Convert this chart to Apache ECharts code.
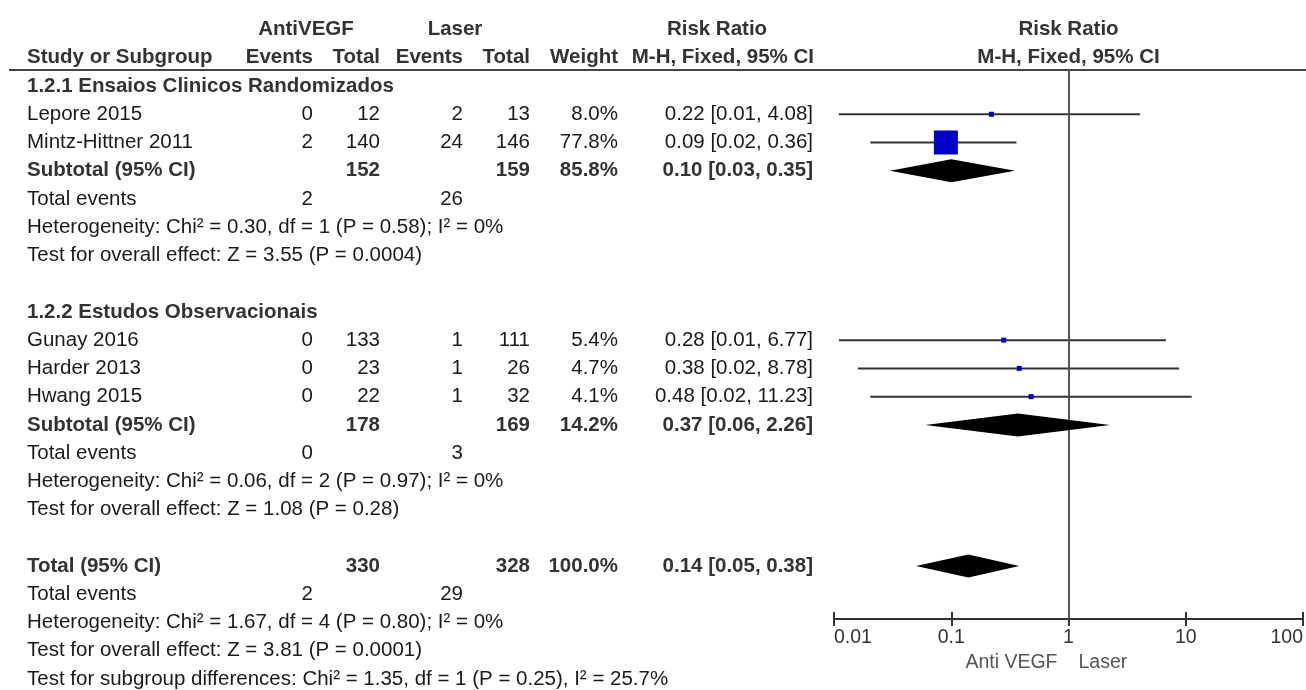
<!DOCTYPE html>
<html><head><meta charset="utf-8">
<script src="https://cdn.jsdelivr.net/npm/echarts@6/dist/echarts.min.js"></script>
<style>html,body{margin:0;padding:0;background:#fff}#c{width:1306px;height:690px}</style>
</head><body><div id="c"></div>
<script>
// ================= DATA =================
const subgroupNames = ['1.2.1 Ensaios Clinicos Randomizados', '1.2.2 Estudos Observacionais'];
const studyNames   = ['Lepore 2015', 'Mintz-Hittner 2011', 'Gunay 2016', 'Harder 2013', 'Hwang 2015'];
const studyGroup   = [0, 0, 1, 1, 1];
const antiEvents   = [0, 2, 0, 0, 0];
const antiTotal    = [12, 140, 133, 23, 22];
const laserEvents  = [2, 24, 1, 1, 1];
const laserTotal   = [13, 146, 111, 26, 32];
const studyWeight  = [8.0, 77.8, 5.4, 4.7, 4.1];
const studyRR      = [0.22, 0.09, 0.28, 0.38, 0.48];
const studyLow     = [0.011, 0.0204, 0.011, 0.016, 0.0204];
const studyHigh    = [4.08, 0.36, 6.77, 8.78, 11.23];

const subAntiTotal   = [152, 178];
const subLaserTotal  = [159, 169];
const subWeight      = [85.8, 14.2];
const subRR          = [0.10, 0.37];
const subLow         = [0.03, 0.06];
const subHigh        = [0.35, 2.26];
const subAntiEvents  = [2, 0];
const subLaserEvents = [26, 3];

// heterogeneity / overall effect: [subgroup 1, subgroup 2, total]
const hetChi = ['0.30', '0.06', '1.67'];
const hetDf  = [1, 2, 4];
const hetP   = ['0.58', '0.97', '0.80'];
const hetI2  = ['0', '0', '0'];
const effZ   = ['3.55', '1.08', '3.81'];
const effP   = ['0.0004', '0.28', '0.0001'];

const totalAnti = 330, totalLaser = 328, totalWeight = 100.0;
const totalRR = 0.14, totalLow = 0.05, totalHigh = 0.38;
const totalAntiEvents = 2, totalLaserEvents = 29;
const diffChi = '1.35', diffDf = 1, diffP = '0.25', diffI2 = '25.7';

const tickLabels = ['0.01', '0.1', '1', '10', '100'];
const favourLeft = 'Anti VEGF', favourRight = 'Laser';

// ================= LAYOUT =================
const FONT = "'Liberation Sans', Arial, sans-serif";
const FS = 20.5;
const COL = { name: 27, antiEv: 313, antiTot: 380, lasEv: 463, lasTot: 530, weight: 618, rr: 813 };
const GRID = { left: 834, right: 3, top: 70, bottom: 71 };
const ROW_MIN = -0.5666, ROW_MAX = 18.874;
const MAX_BOX = 24, MIN_BOX = 5, DIAMOND_H = 11.5;

// ================= ROWS =================
const fmt2 = v => v.toFixed(2);
const ciText = (rr, lo, hi) => fmt2(rr) + ' [' + fmt2(lo) + ', ' + fmt2(hi) + ']';
const rows = [];
let r = 0;
for (let g = 0; g < subgroupNames.length; g++) {
  rows.push({ kind: 'group', g, row: r++ });
  studyNames.forEach((n, i) => { if (studyGroup[i] === g) rows.push({ kind: 'study', i, row: r++ }); });
  rows.push({ kind: 'subtotal', g, row: r++ });
  rows.push({ kind: 'events', a: subAntiEvents[g], l: subLaserEvents[g], row: r++ });
  rows.push({ kind: 'het', k: g, row: r++ });
  rows.push({ kind: 'eff', k: g, row: r++ });
  r++;
}
rows.push({ kind: 'total', row: r++ });
rows.push({ kind: 'events', a: totalAntiEvents, l: totalLaserEvents, row: r++ });
rows.push({ kind: 'het', k: 2, row: r++ });
rows.push({ kind: 'eff', k: 2, row: r++ });
rows.push({ kind: 'diff', row: r++ });

const ciData = [], boxData = [], diamondData = [];
rows.forEach(o => {
  if (o.kind === 'study') {
    ciData.push([studyLow[o.i], studyHigh[o.i], o.row]);
    boxData.push([studyRR[o.i], o.row, studyWeight[o.i]]);
  } else if (o.kind === 'subtotal') {
    diamondData.push([subRR[o.g], subLow[o.g], subHigh[o.g], o.row]);
  } else if (o.kind === 'total') {
    diamondData.push([totalRR, totalLow, totalHigh, o.row]);
  }
});
const maxW = Math.max.apply(null, studyWeight);

const chart = echarts.init(document.getElementById('c'), null, { renderer: 'canvas' });
const gridBox = { left: GRID.left, right: GRID.right, top: GRID.top, bottom: GRID.bottom, containLabel: false };
chart.setOption({
  animation: false,
  backgroundColor: '#fff',
  grid: [gridBox, Object.assign({}, gridBox)],
  xAxis: [{
    gridIndex: 0, position: 'bottom',
    type: 'log', logBase: 10, min: 0.01, max: 100,
    axisLine: { show: true, onZero: false, lineStyle: { color: '#333', width: 2 } },
    axisTick: { show: true, length: 7, lineStyle: { color: '#333', width: 2 } },
    axisLabel: {
      color: '#333', fontSize: 19.5, fontFamily: FONT, margin: 9,
      showMinLabel: true, showMaxLabel: true,
      alignMinLabel: 'left', alignMaxLabel: 'right',
      formatter: v => { const e = Math.round(Math.log10(v)) + 2; return tickLabels[e] != null ? tickLabels[e] : ''; }
    },
    splitLine: { show: false }
  }, {
    gridIndex: 1, position: 'bottom',
    type: 'log', logBase: 10, min: 0.01, max: 100,
    axisLine: { show: false, onZero: false },
    axisTick: { show: true, inside: true, length: 7, lineStyle: { color: '#333', width: 2 } },
    axisLabel: { show: false },
    splitLine: { show: false }
  }],
  yAxis: [
    { gridIndex: 0, type: 'value', inverse: true, min: ROW_MIN, max: ROW_MAX, show: false, splitLine: { show: false } },
    { gridIndex: 1, type: 'value', inverse: true, min: ROW_MIN, max: ROW_MAX, show: false, splitLine: { show: false } }
  ],
  series: [{
    type: 'custom', xAxisIndex: 0, yAxisIndex: 0,
    data: ciData,
    renderItem: (p, api) => {
      const a = api.coord([api.value(0), api.value(2)]);
      const b = api.coord([api.value(1), api.value(2)]);
      return { type: 'line', shape: { x1: a[0], y1: a[1], x2: b[0], y2: b[1] }, style: { stroke: '#333', lineWidth: 2 } };
    }
  }, {
    type: 'scatter', xAxisIndex: 0, yAxisIndex: 0,
    symbol: 'rect',
    data: boxData,
    symbolSize: v => Math.max(MIN_BOX, MAX_BOX * v[2] / maxW),
    itemStyle: { color: '#0000c8', opacity: 1 },
    z: 5,
    markLine: {
      silent: true, symbol: 'none', label: { show: false },
      lineStyle: { color: '#555', width: 2, type: 'solid' },
      data: [{ xAxis: 1 }]
    }
  }, {
    type: 'custom', xAxisIndex: 0, yAxisIndex: 0,
    data: diamondData,
    z: 6,
    renderItem: (p, api) => {
      const c = api.coord([api.value(0), api.value(3)]);
      const l = api.coord([api.value(1), api.value(3)]);
      const rr = api.coord([api.value(2), api.value(3)]);
      return { type: 'polygon', shape: { points: [[l[0], c[1]], [c[0], c[1] - DIAMOND_H], [rr[0], c[1]], [c[0], c[1] + DIAMOND_H]] }, style: { fill: '#000' } };
    }
  }]
});

// ================= TABLE TEXT =================
const yOf = row => chart.convertToPixel({ yAxisIndex: 0 }, row);
const xOne = chart.convertToPixel({ xAxisIndex: 0 }, 1);
const els = [];
function txt(text, x, y, align, bold, color, size) {
  els.push({
    type: 'text', x: x, y: y, silent: true,
    style: {
      text: String(text), fontSize: size || FS, fontFamily: FONT, fontWeight: bold ? 'bold' : 'normal',
      fill: color || (bold ? '#333' : '#1a1a1a'),
      align: align, textAlign: align, verticalAlign: 'middle', textVerticalAlign: 'middle'
    }
  });
}
// header line
els.push({ type: 'line', silent: true, shape: { x1: 9, y1: GRID.top, x2: 1306, y2: GRID.top }, style: { stroke: '#444', lineWidth: 2 } });
const h1 = yOf(-2), h2 = yOf(-1);
txt('AntiVEGF', 306, h1, 'center', true);
txt('Laser', 455, h1, 'center', true);
txt('Risk Ratio', 717, h1, 'center', true);
txt('Risk Ratio', xOne, h1, 'center', true);
txt('Study or Subgroup', COL.name, h2, 'left', true);
txt('Events', COL.antiEv, h2, 'right', true);
txt('Total', COL.antiTot, h2, 'right', true);
txt('Events', COL.lasEv, h2, 'right', true);
txt('Total', COL.lasTot, h2, 'right', true);
txt('Weight', COL.weight, h2, 'right', true);
txt('M-H, Fixed, 95% CI', 814, h2, 'right', true);
txt('M-H, Fixed, 95% CI', xOne, h2, 'center', true);

rows.forEach(o => {
  const y = yOf(o.row);
  if (o.kind === 'group') {
    txt(subgroupNames[o.g], COL.name, y, 'left', true);
  } else if (o.kind === 'study') {
    const i = o.i;
    txt(studyNames[i], COL.name, y, 'left');
    txt(antiEvents[i], COL.antiEv, y, 'right');
    txt(antiTotal[i], COL.antiTot, y, 'right');
    txt(laserEvents[i], COL.lasEv, y, 'right');
    txt(laserTotal[i], COL.lasTot, y, 'right');
    txt(studyWeight[i].toFixed(1) + '%', COL.weight, y, 'right');
    txt(ciText(studyRR[i], studyLow[i], studyHigh[i]), COL.rr, y, 'right');
  } else if (o.kind === 'subtotal') {
    const g = o.g;
    txt('Subtotal (95% CI)', COL.name, y, 'left', true);
    txt(subAntiTotal[g], COL.antiTot, y, 'right', true);
    txt(subLaserTotal[g], COL.lasTot, y, 'right', true);
    txt(subWeight[g].toFixed(1) + '%', COL.weight, y, 'right', true);
    txt(ciText(subRR[g], subLow[g], subHigh[g]), COL.rr, y, 'right', true);
  } else if (o.kind === 'total') {
    txt('Total (95% CI)', COL.name, y, 'left', true);
    txt(totalAnti, COL.antiTot, y, 'right', true);
    txt(totalLaser, COL.lasTot, y, 'right', true);
    txt(totalWeight.toFixed(1) + '%', COL.weight, y, 'right', true);
    txt(ciText(totalRR, totalLow, totalHigh), COL.rr, y, 'right', true);
  } else if (o.kind === 'events') {
    txt('Total events', COL.name, y, 'left');
    txt(o.a, COL.antiEv, y, 'right');
    txt(o.l, COL.lasEv, y, 'right');
  } else if (o.kind === 'het') {
    txt('Heterogeneity: Chi\u00B2 = ' + hetChi[o.k] + ', df = ' + hetDf[o.k] + ' (P = ' + hetP[o.k] + '); I\u00B2 = ' + hetI2[o.k] + '%', COL.name, y, 'left');
  } else if (o.kind === 'eff') {
    txt('Test for overall effect: Z = ' + effZ[o.k] + ' (P = ' + effP[o.k] + ')', COL.name, y, 'left');
  } else if (o.kind === 'diff') {
    txt('Test for subgroup differences: Chi\u00B2 = ' + diffChi + ', df = ' + diffDf + ' (P = ' + diffP + '), I\u00B2 = ' + diffI2 + '%', COL.name, y, 'left');
  }
});
const axisY = chart.getHeight() - GRID.bottom;
txt(favourLeft, xOne - 11, axisY + 44, 'right', false, '#555', 19.5);
txt(favourRight, xOne + 10, axisY + 44, 'left', false, '#555', 19.5);

chart.setOption({ graphic: { elements: els } });
</script>
</body></html>
